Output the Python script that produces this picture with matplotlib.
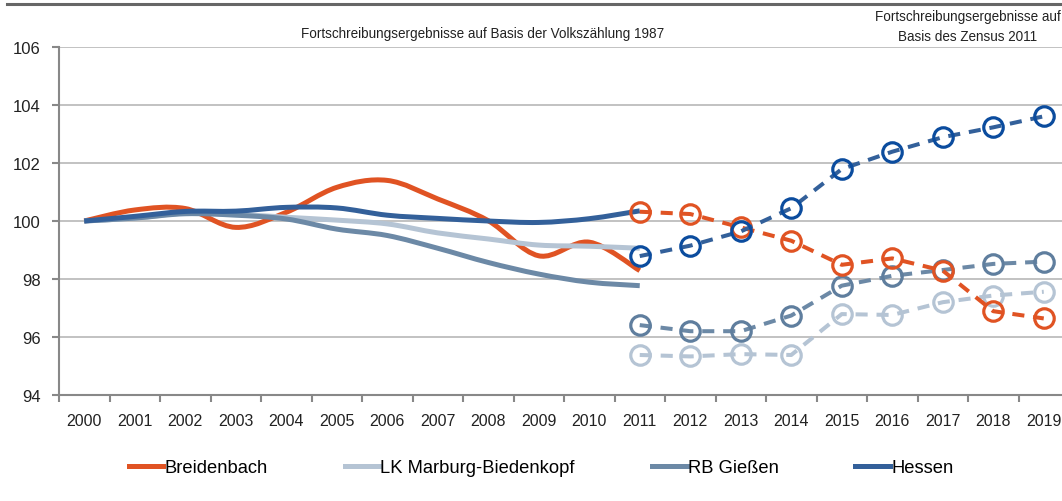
import numpy as np
import matplotlib
matplotlib.use("Agg")
import matplotlib.pyplot as plt
from matplotlib.path import Path
from matplotlib.patches import PathPatch
from matplotlib.lines import Line2D

plt.rcParams['font.family'] = ['Liberation Sans', 'DejaVu Sans']

years = [str(y) for y in range(2000, 2020)]
old_years = list(range(0, 12))     # 2000..2011, Volkszaehlung 1987
new_years = list(range(11, 20))    # 2011..2019, Zensus 2011

names = ["Breidenbach", "LK Marburg-Biedenkopf", "RB Gießen", "Hessen"]

# basis Volkszaehlung 1987 (index 2000 = 100)
breidenbach_old = [100.0, 100.38, 100.43, 99.78, 100.3, 101.16, 101.4, 100.76, 100.01, 98.8, 99.27, 98.29]
lk_old = [100.0, 100.1, 100.27, 100.23, 100.13, 100.03, 99.9, 99.59, 99.38, 99.17, 99.13, 99.06]
rb_old = [100.0, 100.1, 100.25, 100.2, 100.07, 99.72, 99.5, 99.06, 98.57, 98.17, 97.89, 97.77]
hessen_old = [100.0, 100.16, 100.33, 100.34, 100.47, 100.45, 100.2, 100.09, 100.0, 99.95, 100.08, 100.35]

# basis Zensus 2011
breidenbach_new = [100.32, 100.24, 99.78, 99.32, 98.49, 98.71, 98.29, 96.89, 96.64]
lk_new = [95.38, 95.33, 95.41, 95.38, 96.79, 96.76, 97.2, 97.43, 97.56]
rb_new = [96.41, 96.2, 96.2, 96.74, 97.77, 98.11, 98.31, 98.52, 98.6]
hessen_new = [98.79, 99.15, 99.64, 100.44, 101.79, 102.39, 102.89, 103.23, 103.61]

line_colors = ["#E05323", "#B5C4D4", "#6C89A6", "#33609A"]
marker_colors = ["#E05323", "#B5C4D4", "#5F7E9E", "#0B4C9E"]

old_data = [breidenbach_old, lk_old, rb_old, hessen_old]
new_data = [breidenbach_new, lk_new, rb_new, hessen_new]


def smooth_path(xs, ys):
    # excel-like smoothed line: catmull-rom turned into bezier segments
    xs = np.asarray(xs, float)
    ys = np.asarray(ys, float)
    pts = np.column_stack([xs, ys])
    verts = [pts[0]]
    codes = [Path.MOVETO]
    n = len(pts)
    for i in range(n - 1):
        p0 = pts[max(i - 1, 0)]
        p1 = pts[i]
        p2 = pts[i + 1]
        p3 = pts[min(i + 2, n - 1)]
        c1 = p1 + (p2 - p0) / 6.0
        c2 = p2 - (p3 - p1) / 6.0
        verts += [c1, c2, p2]
        codes += [Path.CURVE4] * 3
    return Path(verts, codes)


fig = plt.figure(figsize=(10.62, 5.02), dpi=100)
ax = fig.add_axes([59 / 1062, 106 / 502, 1010 / 1062, 348 / 502])

for i in range(4):
    ax.add_patch(PathPatch(smooth_path(old_years, old_data[i]), facecolor='none',
                           edgecolor=line_colors[i], lw=3.6, capstyle='butt', zorder=3))
# draw order so Hessen sits on top like the original
for i in [2, 1, 0, 3]:
    ax.plot(new_years, new_data[i], color=line_colors[i], lw=2.9, linestyle=(0, (3, 2.2)),
            marker='o', markersize=14, markerfacecolor='none', markeredgecolor=marker_colors[i],
            markeredgewidth=2.3, zorder=4)

ax.set_xlim(-0.5, 19.5)
ax.set_ylim(94, 106)
ax.set_yticks(np.arange(94, 107, 2))
ax.set_xticks(range(20))
ax.set_xticklabels(years)
ax.set_xticks(np.arange(-0.5, 20, 1), minor=True)
ax.tick_params(axis='x', which='major', length=0, pad=13, labelsize=11.5, colors='#222222')
ax.tick_params(axis='x', which='minor', length=5, width=1.5, color='#888888', direction='out')
ax.tick_params(axis='y', length=5, width=1.5, color='#888888', pad=8, labelsize=12, labelcolor='#222222')
ax.grid(axis='y', color='#BDBDBD', lw=1.3)
ax.set_axisbelow(True)
for side in ['top', 'right']:
    ax.spines[side].set_visible(False)
for side in ['left', 'bottom']:
    ax.spines[side].set_color('#888888')
    ax.spines[side].set_linewidth(1.5)

fig.add_artist(Line2D([7 / 1062, 1.0], [1 - 5 / 502, 1 - 5 / 502], color='#666666', lw=2.2))
fig.text(483 / 1062, 1 - 34 / 502, "Fortschreibungsergebnisse auf Basis der Volkszählung 1987",
         ha='center', va='center', fontsize=9.75, color='#222222')
fig.text(968 / 1062, 1 - 27 / 502, "Fortschreibungsergebnisse auf\nBasis des Zensus 2011",
         ha='center', va='center', fontsize=9.75, color='#222222', linespacing=1.6)

handles = [Line2D([], [], color=c, lw=3.6) for c in line_colors]
fig.legend(handles, names, loc='center', bbox_to_anchor=(541 / 1062, 1 - 469 / 502), ncol=4,
           frameon=False, fontsize=13.2, handlelength=1.9, handletextpad=0.05, columnspacing=4.2)

fig.savefig("out.png", dpi=100)
